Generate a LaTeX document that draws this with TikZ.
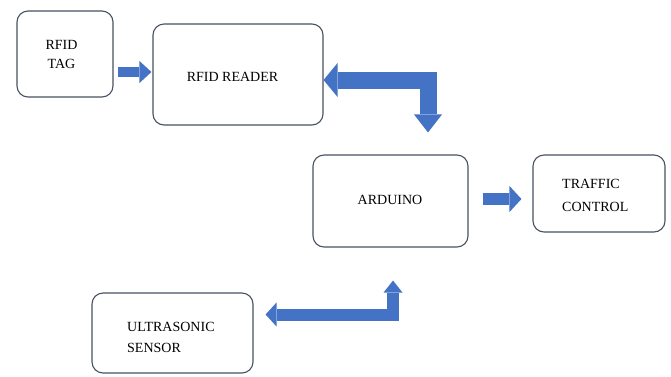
\documentclass[tikz,border=0pt]{standalone}
\usepackage{fontspec}
\setmainfont{Liberation Serif}
\usetikzlibrary{arrows.meta,calc}
\definecolor{boxline}{RGB}{72,82,96}
\definecolor{arrowblue}{RGB}{68,114,196}
\begin{document}
\begin{tikzpicture}[x=1pt,y=-1pt,
  box/.style={draw=boxline,line width=1.1pt,rounded corners=11pt,fill=white,inner sep=0pt},
  lbl/.style={inner sep=0pt,font=\fontsize{14}{19}\selectfont},
  barrow/.style={draw=arrowblue,line cap=butt,line join=miter}]
\useasboundingbox[fill=white] (0,0) rectangle (671,376);

\node[box,minimum width=96pt,minimum height=86pt] (tag) at (65,54) {};
\node[box,minimum width=170pt,minimum height=101pt] (reader) at (238,74.5) {};
\node[box,minimum width=155pt,minimum height=92pt] (arduino) at (390.5,201) {};
\node[box,minimum width=132pt,minimum height=77pt] (traffic) at (599,193.5) {};
\node[box,minimum width=161pt,minimum height=80pt] (ultra) at (172.5,333) {};

\node[lbl,align=center,anchor=north] (tagtext) at (61.5,39.8) {RFID\\TAG};
\node[lbl,anchor=base] (readertext) at (232.5,81) {RFID READER};
\node[lbl,anchor=base] (ardtext) at (390,204) {ARDUINO};
\node[lbl,align=left,anchor=north west,font=\fontsize{14}{23}\selectfont] (traffictext) at (562,178.8) {TRAFFIC\\CONTROL};
\node[lbl,align=left,anchor=north west,font=\fontsize{14}{21}\selectfont] (ultratext) at (127,321.8) {ULTRASONIC\\SENSOR};

\draw[barrow,line width=10pt,-{Triangle[width=22pt,length=12pt,line width=0pt]}]
  ($(tag.east |- 0,72)+(4,0)$) -- ($(reader.west |- 0,72)+(-1,0)$);
\draw[barrow,line width=17pt,{Triangle[width=34pt,length=14pt,line width=0pt]}-{Triangle[width=28pt,length=18pt,line width=0pt]}]
  ($(reader.east |- 0,80)$) -| ($(arduino.north)+(37.5,-22)$);
\draw[barrow,line width=12pt,-{Triangle[width=26pt,length=12pt,line width=0pt]}]
  ($(arduino.east |- 0,199)+(14,0)$) -- ($(traffic.west |- 0,199)+(-11,0)$);
\draw[barrow,line width=12pt,{Triangle[width=24pt,length=11pt,line width=0pt]}-{Triangle[width=19pt,length=12pt,line width=0pt]}]
  ($(ultra.east |- 0,314.5)+(12,0)$) -| ($(arduino.south)+(2.5,33)$);
\end{tikzpicture}
\end{document}
